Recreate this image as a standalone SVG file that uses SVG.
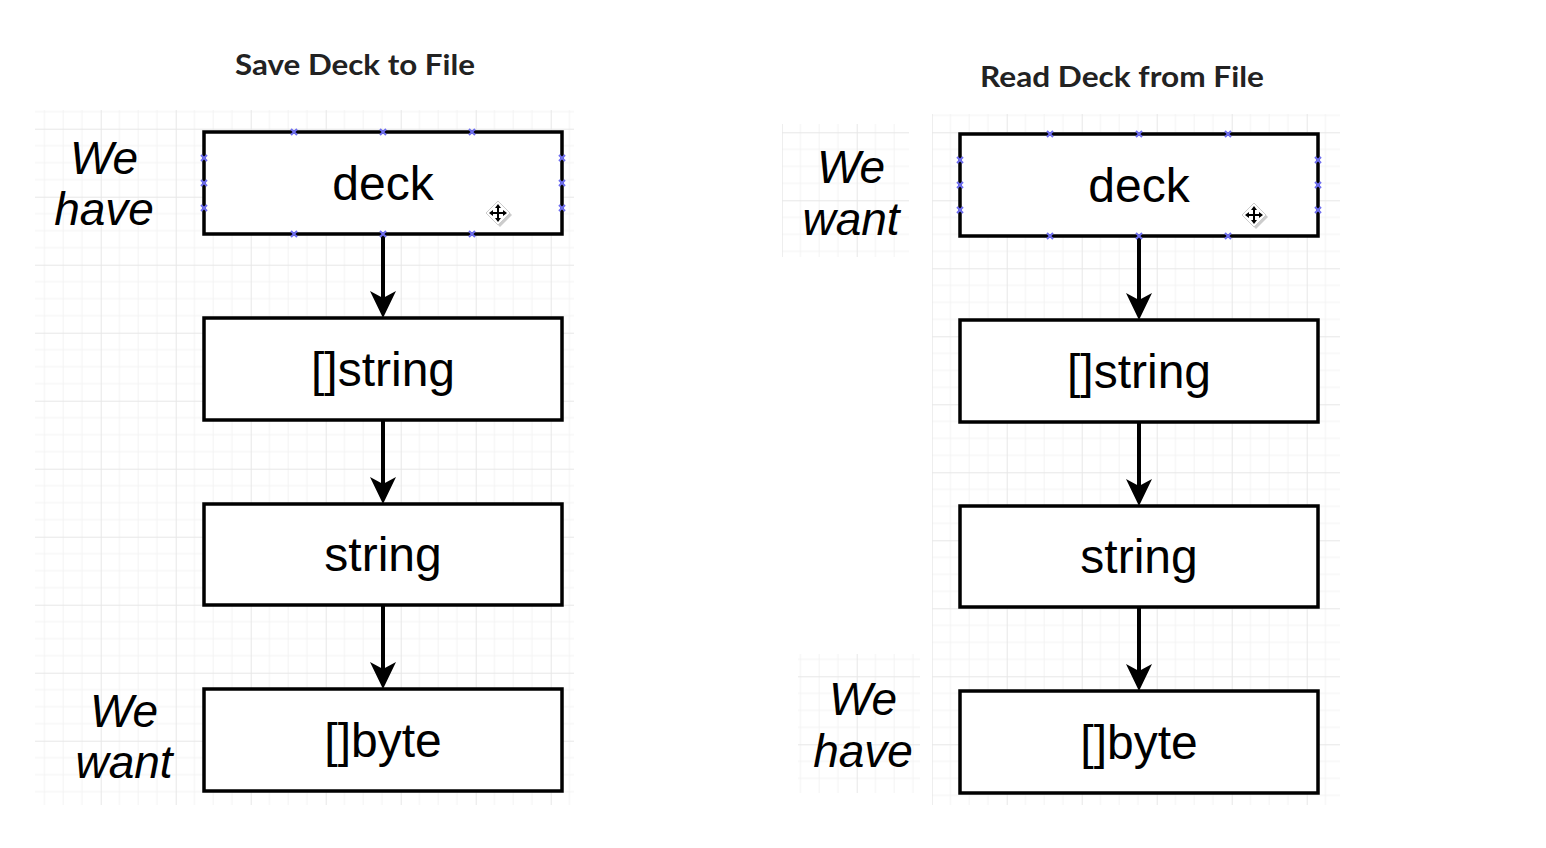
<svg xmlns="http://www.w3.org/2000/svg" width="1546" height="848" viewBox="0 0 1546 848">
<defs>
<style>
.title{font-family:Lato,"Open Sans","Liberation Sans",sans-serif;font-weight:bold;font-size:29px;fill:#222;text-anchor:middle}
.lbl{font-family:"Liberation Sans",Arial,sans-serif;font-size:48px;fill:#000;text-anchor:middle}
.side{font-family:"Liberation Sans",Arial,sans-serif;font-style:italic;font-size:46px;fill:#000;text-anchor:middle}
.box{fill:#fff;stroke:#000;stroke-width:3.5}
.edge{stroke:#000;stroke-width:4;fill:none}
.pt{stroke:#6f6ff0;stroke-width:2;fill:none}
</style>
<pattern id="gridL" patternUnits="userSpaceOnUse" width="75" height="68" patternTransform="translate(25.7,60.7)">
<path d="M18.75 0V68M37.5 0V68M56.25 0V68M0 17H75M0 34H75M0 51H75" stroke="#f3f3f3" stroke-width="1"/>
<path d="M0.5 0V68M0 0.5H75" stroke="#e7e7e7" stroke-width="1"/>
</pattern>
<pattern id="gridR" patternUnits="userSpaceOnUse" width="75" height="68" patternTransform="translate(31.7,64.3)">
<path d="M18.75 0V68M37.5 0V68M56.25 0V68M0 17H75M0 34H75M0 51H75" stroke="#f3f3f3" stroke-width="1"/>
<path d="M0.5 0V68M0 0.5H75" stroke="#e7e7e7" stroke-width="1"/>
</pattern>
<marker id="arr" markerUnits="userSpaceOnUse" viewBox="0 0 27 26" markerWidth="27" markerHeight="26" refX="9" refY="13" orient="auto">
<path d="M27 13 L0 0 L7 13 L0 26 Z" fill="#000"/>
</marker>
<g id="pts">
<path class="pt" d="M-3 -3L3 3M-3 3L3 -3"/>
</g>
<g id="move">
<path d="M2 -10 L14 2 L2 14 L-10 2 Z" fill="#999" opacity="0.5"/>
<path d="M0 -12 L12 0 L0 12 L-12 0 Z" fill="#fff" stroke="#ccc" stroke-width="1"/>
<path d="M0 -7V7M-7 0H7" stroke="#000" stroke-width="2"/>
<path d="M0 -9L-3 -5H3Z M0 9L-3 5H3Z M-9 0L-5 -3V3Z M9 0L5 -3V3Z" fill="#000"/>
</g>
</defs>
<rect width="1546" height="848" fill="#fff"/>
<g id="grids">
<rect x="35" y="110" width="539" height="695" fill="url(#gridL)"/>
<rect x="932" y="114" width="408" height="691" fill="url(#gridR)"/>
<rect x="782" y="124" width="127" height="133" fill="url(#gridR)"/>
<rect x="798" y="654" width="122" height="139" fill="url(#gridR)"/>
</g>
<text class="title" x="355" y="75" textLength="240" lengthAdjust="spacingAndGlyphs">Save Deck to File</text>
<text class="title" x="1122" y="87" textLength="284" lengthAdjust="spacingAndGlyphs">Read Deck from File</text>
<g id="connectors">
<line class="edge" x1="383" y1="235" x2="383" y2="300" marker-end="url(#arr)"/>
<line class="edge" x1="383" y1="421" x2="383" y2="486" marker-end="url(#arr)"/>
<line class="edge" x1="383" y1="606" x2="383" y2="671" marker-end="url(#arr)"/>
<line class="edge" x1="1139" y1="237" x2="1139" y2="302" marker-end="url(#arr)"/>
<line class="edge" x1="1139" y1="423" x2="1139" y2="488" marker-end="url(#arr)"/>
<line class="edge" x1="1139" y1="608" x2="1139" y2="673" marker-end="url(#arr)"/>
</g>
<g id="left-deck">
<rect class="box" x="204" y="132" width="358" height="102"/>
<text class="lbl" x="383" y="200">deck</text>
<use href="#pts" x="294" y="132"/><use href="#pts" x="383" y="132"/><use href="#pts" x="472" y="132"/>
<use href="#pts" x="294" y="234"/><use href="#pts" x="383" y="234"/><use href="#pts" x="472" y="234"/>
<use href="#pts" x="204" y="158"/><use href="#pts" x="204" y="183"/><use href="#pts" x="204" y="208"/>
<use href="#pts" x="562" y="158"/><use href="#pts" x="562" y="183"/><use href="#pts" x="562" y="208"/>
<use href="#move" x="498" y="213"/>
</g>
<g id="left-strings">
<rect class="box" x="204" y="318" width="358" height="102"/>
<text class="lbl" x="383" y="386">[]string</text>
</g>
<g id="left-string">
<rect class="box" x="204" y="504" width="358" height="101"/>
<text class="lbl" x="383" y="571">string</text>
</g>
<g id="left-bytes">
<rect class="box" x="204" y="689" width="358" height="102"/>
<text class="lbl" x="383" y="757">[]byte</text>
</g>
<g id="left-have">
<text class="side" x="104" y="174">We</text>
<text class="side" x="104" y="225">have</text>
</g>
<g id="left-want">
<text class="side" x="124" y="727">We</text>
<text class="side" x="124" y="778">want</text>
</g>
<g id="right-deck">
<rect class="box" x="960" y="134" width="358" height="102"/>
<text class="lbl" x="1139" y="202">deck</text>
<use href="#pts" x="1050" y="134"/><use href="#pts" x="1139" y="134"/><use href="#pts" x="1228" y="134"/>
<use href="#pts" x="1050" y="236"/><use href="#pts" x="1139" y="236"/><use href="#pts" x="1228" y="236"/>
<use href="#pts" x="960" y="160"/><use href="#pts" x="960" y="185"/><use href="#pts" x="960" y="210"/>
<use href="#pts" x="1318" y="160"/><use href="#pts" x="1318" y="185"/><use href="#pts" x="1318" y="210"/>
<use href="#move" x="1254" y="215"/>
</g>
<g id="right-strings">
<rect class="box" x="960" y="320" width="358" height="102"/>
<text class="lbl" x="1139" y="388">[]string</text>
</g>
<g id="right-string">
<rect class="box" x="960" y="506" width="358" height="101"/>
<text class="lbl" x="1139" y="573">string</text>
</g>
<g id="right-bytes">
<rect class="box" x="960" y="691" width="358" height="102"/>
<text class="lbl" x="1139" y="759">[]byte</text>
</g>
<g id="right-want">
<text class="side" x="851" y="183">We</text>
<text class="side" x="851" y="235">want</text>
</g>
<g id="right-have">
<text class="side" x="863" y="715">We</text>
<text class="side" x="863" y="767">have</text>
</g>
</svg>
